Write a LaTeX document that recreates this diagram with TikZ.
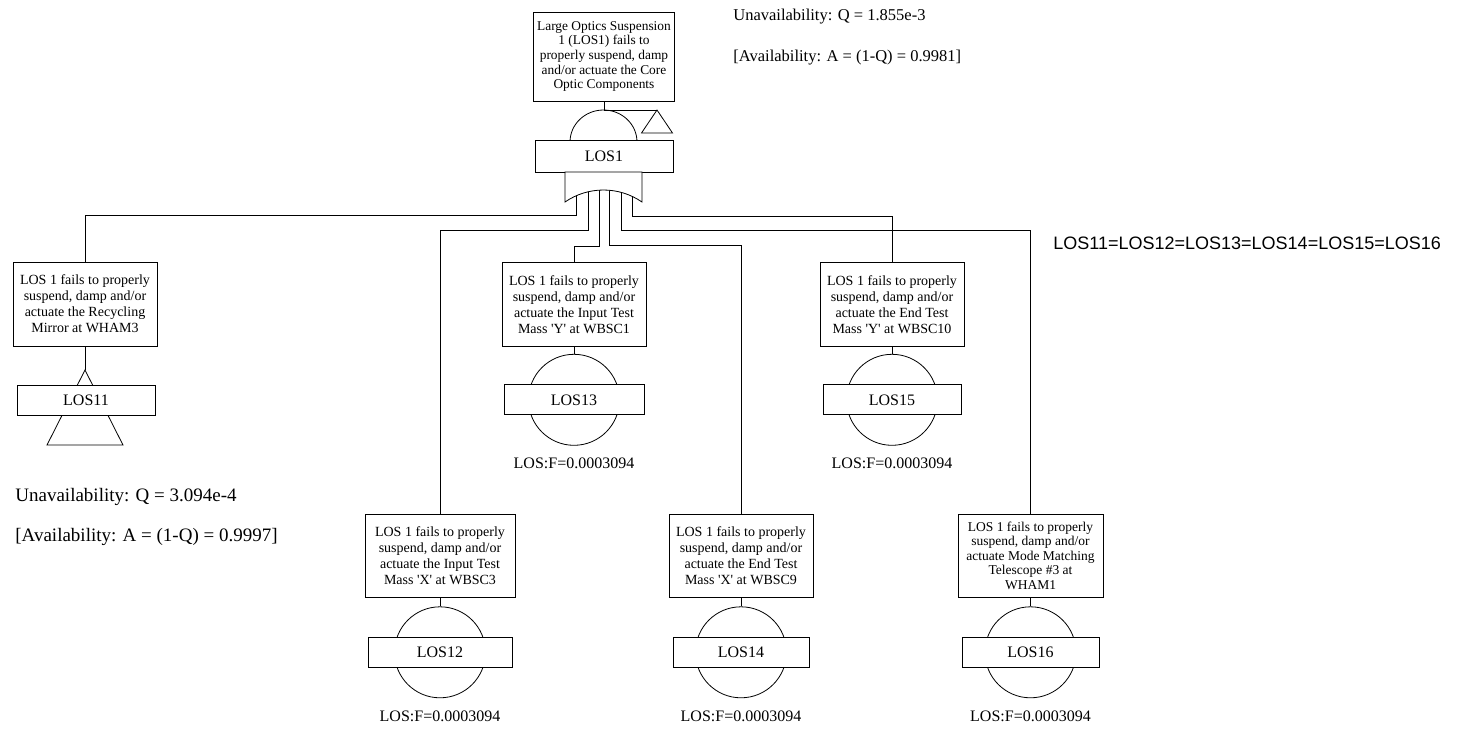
\documentclass[tikz,border=0pt]{standalone}
\usepackage{fontspec}
\setmainfont{Liberation Serif}
\newfontfamily\arialfont{Liberation Sans}
\usepackage{tikz}
\usetikzlibrary{positioning, calc}
\tikzset{
    descnode/.style = {draw=black, fill=white, inner sep=0pt, align=center,
        minimum width=144pt, minimum height=84pt, font=\fontsize{14}{16}\selectfont},
    idnode/.style = {draw=black, fill=white, inner sep=0pt,
        minimum width=138pt, minimum height=30pt, font=\fontsize{16}{19}\selectfont},
    basic/.style = {draw=black, circle, inner sep=0pt, minimum size=91pt},
    freq/.style = {inner sep=0pt, font=\fontsize{16}{19}\selectfont},
    note/.style = {inner sep=0pt, anchor=west},
}

\begin{document}
\begin{tikzpicture}[x=1pt, y=1pt, line width=0.8pt]
        \useasboundingbox (0,0) rectangle (1468,-732);
        % top event
        \node (top) [descnode, minimum width=141pt, minimum height=89pt,
            font=\fontsize{13.4}{14.7}\selectfont] at (604,-56.5)
            {Large Optics Suspension\\1 (LOS1) fails to\\properly suspend, damp\\and/or actuate the Core\\Optic Components};
        \coordinate (andtop) at (604,-110);
        \coordinate (tri) at (657,-110);
        \draw (570,-142) arc[start angle=180, end angle=0, x radius=33.5, y radius=32];
        \draw (top.south) -- (andtop) -- (tri);
        \draw (tri) -- ++(-15.5,-23) -- ++(31,0) -- cycle;
        \node (los1) [idnode, minimum height=32pt] at (604,-156) {LOS1};
        \node (unavail) [note, font=\fontsize{16.5}{19}\selectfont] at (733,-17) {Unavailability: Q = 1.855e-3};
        \node (avail) [note, font=\fontsize{16.5}{19}\selectfont] at (733,-58) {[Availability: A = (1-Q) = 0.9981]};
        % first row
        \node (desc11) [descnode] at (85,-304) {LOS 1 fails to properly\\suspend, damp and/or\\actuate the Recycling\\Mirror at WHAM3};
        \coordinate (tr11) at (85,-370);
        \draw (desc11.south) -- (tr11);
        \draw (tr11) -- ++(-38,-75) -- ++(76,0) -- cycle;
        \node (id11) [idnode] at (86,-400) {LOS11};
        \node (desc13) [descnode] at (574,-304.5) {LOS 1 fails to properly\\suspend, damp and/or\\actuate the Input Test\\Mass \textquotesingle Y\textquotesingle{} at WBSC1};
        \node (ev13) [basic, below=7pt of desc13] {};
        \node (id13) [idnode, minimum width=140pt] at (ev13) {LOS13};
        \draw (desc13) -- (ev13);
        \node (f13) [freq, below=42pt of id13] {LOS:F=0.0003094};
        \node (desc15) [descnode] at (892,-304.5) {LOS 1 fails to properly\\suspend, damp and/or\\actuate the End Test\\Mass \textquotesingle Y\textquotesingle{} at WBSC10};
        \node (ev15) [basic, below=7pt of desc15] {};
        \node (id15) [idnode] at (ev15) {LOS15};
        \draw (desc15) -- (ev15);
        \node (f15) [freq, below=42pt of id15] {LOS:F=0.0003094};
        % second row
        \node (desc12) [descnode, minimum width=150pt, minimum height=83pt] at (440,-555.5) {LOS 1 fails to properly\\suspend, damp and/or\\actuate the Input Test\\Mass \textquotesingle X\textquotesingle{} at WBSC3};
        \node (ev12) [basic, below=9pt of desc12] {};
        \node (id12) [idnode, minimum width=144pt] at (ev12) {LOS12};
        \draw (desc12) -- (ev12);
        \node (f12) [freq, below=43pt of id12] {LOS:F=0.0003094};
        \node (desc14) [descnode, minimum height=83pt] at (741,-555.5) {LOS 1 fails to properly\\suspend, damp and/or\\actuate the End Test\\Mass \textquotesingle X\textquotesingle{} at WBSC9};
        \node (ev14) [basic, below=9pt of desc14] {};
        \node (id14) [idnode, minimum width=136pt] at (ev14) {LOS14};
        \draw (desc14) -- (ev14);
        \node (f14) [freq, below=43pt of id14] {LOS:F=0.0003094};
        \node (desc16) [descnode, minimum width=145pt, minimum height=83pt,
            font=\fontsize{13.5}{14.5}\selectfont] at (1030.5,-555.5) {LOS 1 fails to properly\\suspend, damp and/or\\actuate Mode Matching\\Telescope \#3 at\\WHAM1};
        \node (ev16) [basic, below=9pt of desc16] {};
        \node (id16) [idnode, minimum width=137pt] at (ev16) {LOS16};
        \draw (desc16) -- (ev16);
        \node (f16) [freq, below=43pt of id16] {LOS:F=0.0003094};
        % or gate
        \coordinate (o1) at (576,-185);
        \coordinate (o2) at (588,-185);
        \coordinate (o3) at (599,-185);
        \coordinate (o4) at (609,-185);
        \coordinate (o5) at (621,-185);
        \coordinate (o6) at (632,-185);
        \draw (o1) |- ([yshift=46pt]desc11.north) -- (desc11.north);
        \draw (o2) |- ([yshift=283pt]desc12.north) -- (desc12.north);
        \draw (o3) |- ([yshift=16pt]desc13.north) -- (desc13.north);
        \draw (o4) |- ([yshift=268pt]desc14.north) -- (desc14.north);
        \draw (o5) |- ([yshift=283pt]desc16.north) -- (desc16.north);
        \draw (o6) |- ([yshift=46pt]desc15.north) -- (desc15.north);
        \draw[fill=white] (565,-172) -- (565,-202) arc[start angle=124.6, end angle=55.4, radius=67.8] -- (642,-172) -- cycle;
        % notes
        \node (unavail11) [note, font=\fontsize{19}{22}\selectfont] at (15,-497) {Unavailability: Q = 3.094e-4};
        \node (avail11) [note, font=\fontsize{19}{22}\selectfont] at (15,-537) {[Availability: A = (1-Q) = 0.9997]};
        \node (equal) [note, font=\arialfont\fontsize{18}{21}\selectfont] at (1053,-243) {LOS11=LOS12=LOS13=LOS14=LOS15=LOS16};
\end{tikzpicture}
\end{document}
